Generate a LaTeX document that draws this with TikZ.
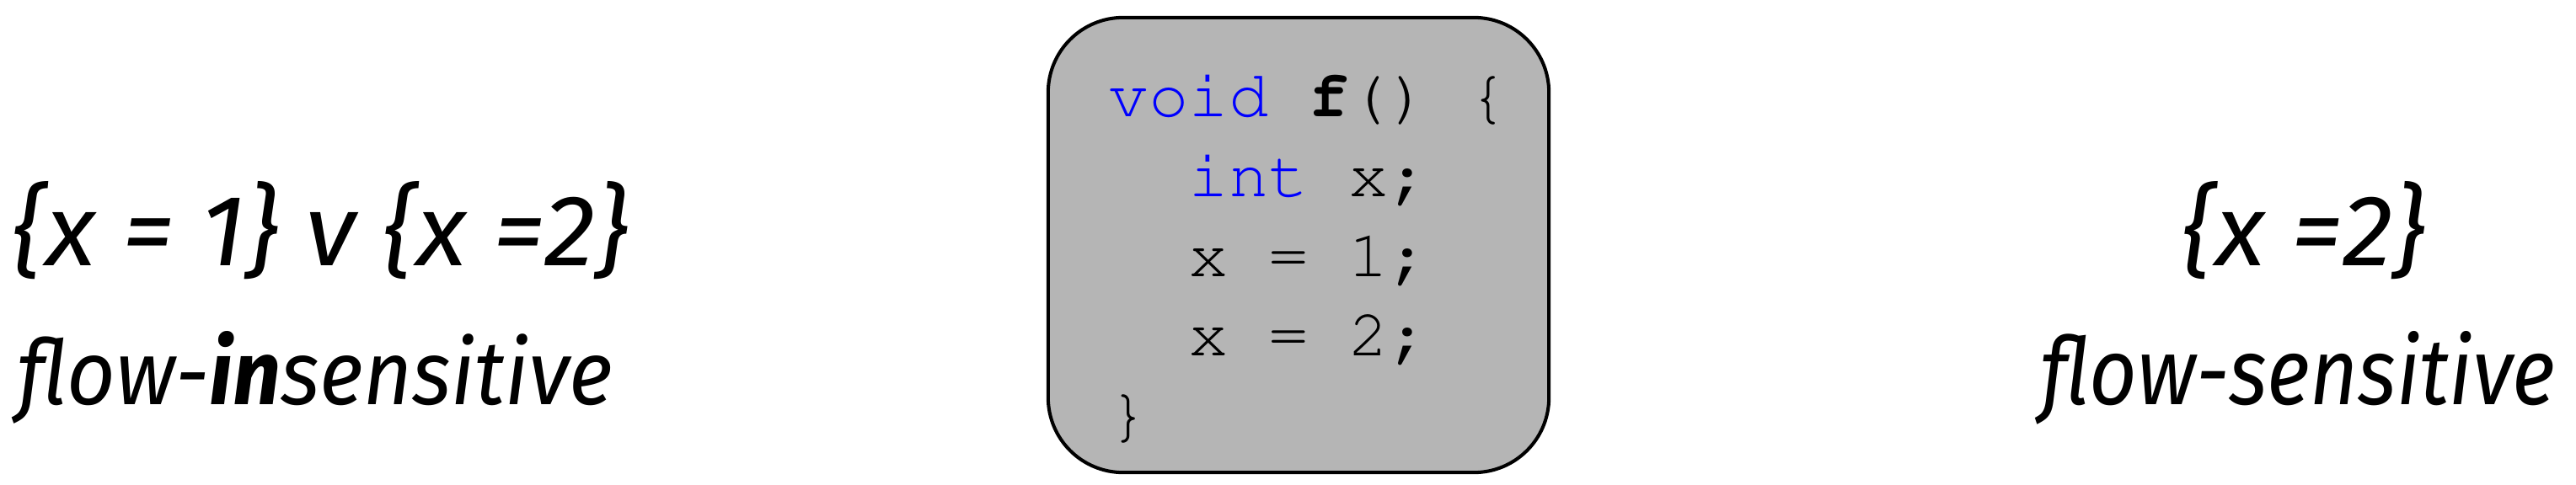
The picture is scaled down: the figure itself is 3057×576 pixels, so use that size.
\documentclass[tikz,border=0pt]{standalone}
\usepackage{graphicx}
\usepackage[T1]{fontenc}
\usepackage{fontspec}
\newfontfamily\handfont{Fira Sans}
\newcommand{\courfont}{\fontencoding{T1}\fontfamily{pcr}\fontsize{22.5}{27}\selectfont}
\definecolor{kw}{RGB}{0,0,255}
\definecolor{boxgray}{RGB}{181,181,181}
\begin{document}
\begin{tikzpicture}[x=0.01cm,y=-0.01cm,
  codebox/.style={draw=black, line width=1.15pt, fill=boxgray, rounded corners=0.89cm,
    minimum width=5.94cm, minimum height=5.40cm, inner sep=0pt},
  codeline/.style={anchor=base west, inner sep=0pt, font=\courfont},
  hand/.style={anchor=base, inner sep=0pt, font=\handfont\itshape}]
\useasboundingbox (0,0) rectangle (3057,576);
% code box
\node[codebox] (box) at (1541,291) {};
\node[codeline] (l1) at (1315,139) {\textcolor{kw}{void} \textbf{f}() \{};
\node[codeline] (l2) at (1315,234) {\ \ \textcolor{kw}{int} x;};
\node[codeline] (l3) at (1315,328) {\ \ x = 1;};
\node[codeline] (l4) at (1315,422) {\ \ x = 2;};
\node[codeline] (l5) at (1315,516) {\}};
% left
\node[hand] (lset) at (380,315) {\resizebox{7.30cm}{1.0cm}{\{x = 1\} v \{x =2\}}};
\node[hand] (llab) at (374,480) {\resizebox{7.06cm}{0.87cm}{flow-{\bfseries in}sensitive}};
% right
\node[hand] (rset) at (2734,315) {\resizebox{2.88cm}{1.0cm}{\{x =2\}}};
\node[hand] (rlab) at (2727,480) {\resizebox{6.11cm}{0.87cm}{flow-sensitive}};
\end{tikzpicture}
\end{document}
